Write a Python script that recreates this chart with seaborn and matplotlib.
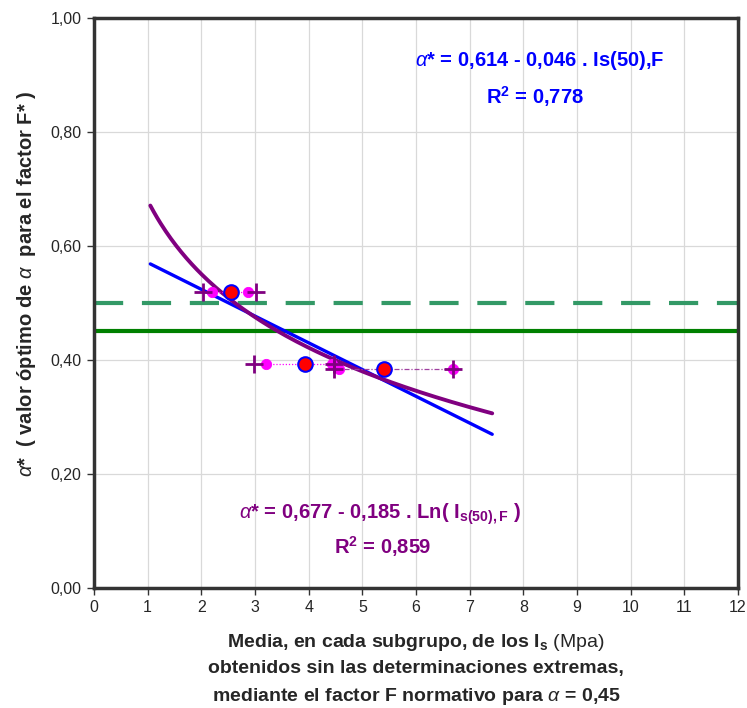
import numpy as np
import pandas as pd
import seaborn as sns
import matplotlib
import matplotlib.pyplot as plt
from matplotlib.ticker import FuncFormatter, MultipleLocator

matplotlib.use('Agg')

# Mean of each subgroup (red circles)
media_x = [2.55, 3.93, 5.40]
alpha_opt = [0.519, 0.393, 0.384]

# Extreme values of each subgroup (crosses) and inner values (magenta dots)
cruz_min = [2.03, 2.98, 4.47]
cruz_max = [3.02, 4.47, 6.68]
punto_min = [2.20, 3.20, 4.56]
punto_max = [2.87, 4.43, 6.68]

# Trend lines drawn between these limits (excel forecast)
trend_desde = 1.05
trend_hasta = 7.42

alpha_norma = 0.45
alpha_ref = 0.50

sns.set_style("white")
plt.rcParams['font.family'] = ['Liberation Sans', 'DejaVu Sans']
plt.rcParams['mathtext.fontset'] = 'custom'
plt.rcParams['mathtext.rm'] = 'Liberation Sans'
plt.rcParams['mathtext.bf'] = 'Liberation Sans:bold'
plt.rcParams['mathtext.it'] = 'Liberation Sans:italic'

fig = plt.figure(figsize=(7.47, 7.08), dpi=100)
ax = fig.add_axes([0.1258, 0.1695, 0.8622, 0.8051])

# horizontal reference lines
ax.axhline(alpha_norma, color='#008000', lw=3, zorder=2)
ax.axhline(alpha_ref, color='#339966', lw=3, ls=(0, (7, 4.5)), zorder=2)

# fits over the subgroup means
lin = np.polyfit(media_x, alpha_opt, 1)
logf = np.polyfit(np.log(media_x), alpha_opt, 1)
xs = np.linspace(trend_desde, trend_hasta, 200)
trend = pd.DataFrame({'x': xs,
                      'lineal': np.polyval(lin, xs),
                      'log': np.polyval(logf, np.log(xs))})
sns.lineplot(data=trend, x='x', y='lineal', color='#0000ff', lw=2.4, ax=ax, zorder=3)
sns.lineplot(data=trend, x='x', y='log', color='#800080', lw=2.8, ax=ax, zorder=3)

# range lines of each subgroup
colores_rango = ['#ff00ff', '#ff00ff', '#a040a0']
estilos_rango = [(0, (1, 1.5)), (0, (1, 1.5)), (0, (4, 1.5, 1, 1.5))]
for i in range(3):
    ax.plot([cruz_min[i], cruz_max[i]], [alpha_opt[i], alpha_opt[i]],
            color=colores_rango[i], lw=0.9, ls=estilos_rango[i], zorder=4)

puntos = pd.DataFrame({'x': punto_min + punto_max, 'y': alpha_opt + alpha_opt})
cruces = pd.DataFrame({'x': cruz_min + cruz_max, 'y': alpha_opt + alpha_opt})
medias = pd.DataFrame({'x': media_x, 'y': alpha_opt})

sns.scatterplot(data=puntos, x='x', y='y', color='#ff00ff', s=55,
                edgecolor='#ff00ff', ax=ax, zorder=5)
sns.scatterplot(data=cruces, x='x', y='y', color='#800080', marker='+', s=170,
                linewidth=2, ax=ax, zorder=6)
sns.scatterplot(data=medias, x='x', y='y', color='#ff0000', s=110,
                edgecolor='#0000ff', linewidth=1.5, ax=ax, zorder=7)

ax.set_xlim(0, 12)
ax.set_ylim(0, 1)
ax.xaxis.set_major_locator(MultipleLocator(1))
ax.yaxis.set_major_locator(MultipleLocator(0.2))
ax.yaxis.set_major_formatter(FuncFormatter(lambda v, p: f"{v:.2f}".replace('.', ',')))
ax.grid(True, color='#d9d9d9', lw=0.9)
ax.set_axisbelow(True)
for s in ax.spines.values():
    s.set_color('#333333')
    s.set_linewidth(2.5)
ax.tick_params(axis='both', direction='out', length=5, width=1, color='#333333',
               labelsize=11.5, pad=4, left=True, bottom=True)

ax.set_xlabel("Media, en cada subgrupo, de los I$_\\mathbf{s}$ $\\mathrm{(Mpa)}$\n"
              "obtenidos sin las determinaciones extremas,\n"
              "mediante el factor F normativo para $\\alpha$ = 0,45",
              fontsize=14, fontweight='bold', linespacing=1.58)
ax.xaxis.label.set_va('center')
ax.xaxis.set_label_coords(0.5, -0.143)

ax.set_ylabel("$\\alpha$*  ( valor óptimo de $\\alpha$  para el factor F* )",
              fontsize=14.5, fontweight='bold')
ax.yaxis.label.set_va('center')
ax.yaxis.set_label_coords(-0.104, 0.533)

ax.text(8.3, 0.925, "$\\alpha$* = 0,614 - 0,046 . Is(50),F", color='#0000ff',
        fontsize=14.5, fontweight='bold', ha='center', va='center')
ax.text(8.22, 0.862, "R$^\\mathbf{2}$ = 0,778", color='#0000ff',
        fontsize=14.5, fontweight='bold', ha='center', va='center')
ax.text(5.33, 0.13, "$\\alpha$* = 0,677 - 0,185 . Ln( I$_\\mathbf{s(50),F}$ )", color='#800080',
        fontsize=14.5, fontweight='bold', ha='center', va='center')
ax.text(5.37, 0.073, "R$^\\mathbf{2}$ = 0,859", color='#800080',
        fontsize=14.5, fontweight='bold', ha='center', va='center')

fig.savefig('out.png', dpi=100)
